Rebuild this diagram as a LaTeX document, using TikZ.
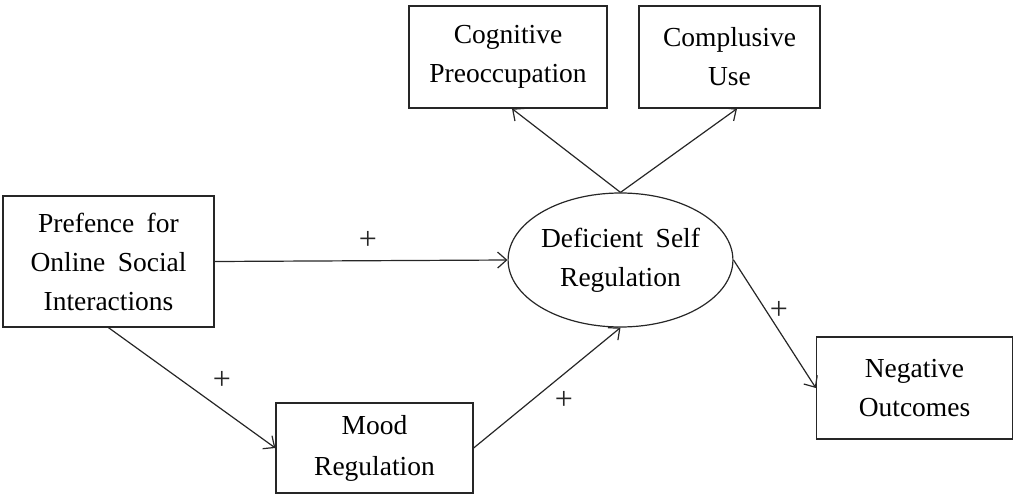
\documentclass[tikz,border=0pt]{standalone}
\usepackage{fontspec}
\setmainfont{Liberation Serif}[WordSpace=1.8]
\usetikzlibrary{arrows.meta,shapes.geometric}
\definecolor{ink}{HTML}{262626}
\tikzset{
  box/.style={draw=ink, line width=1.3pt, rectangle, inner sep=0pt, align=center,
    font=\fontsize{27.5}{39}\selectfont, text=black},
  oval/.style={draw=ink, line width=1.2pt, ellipse, inner sep=0pt, align=center,
    minimum width=223pt, minimum height=134pt, font=\fontsize{27.5}{39}\selectfont, text=black},
  arr/.style={draw=ink, line width=1.2pt, -{Straight Barb[length=9pt,width=16pt,line width=1.2pt]}},
  sign/.style={font=\fontsize{32}{34}\selectfont, text=ink, inner sep=0pt}
}
\begin{document}
\begin{tikzpicture}[x=1pt,y=-1pt]
\useasboundingbox (0,0) rectangle (1014,495);
\node[box, minimum width=198pt, minimum height=102pt] (cog) at (508,57) {Cognitive\\Preoccupation};
\node[box, minimum width=181pt, minimum height=102pt] (comp) at (729.5,57) {Complusive\\Use};
\node[box, minimum width=211pt, minimum height=131pt] (pref) at (108.5,261.5) {Prefence for\\Online Social\\Interactions};
\node[oval] (dsr) at (620.5,260) {Deficient Self\\Regulation};
\node[box, minimum width=197pt, minimum height=90pt] (mood) at (374.5,448) {Mood\\[2pt]Regulation};
\node[box, minimum width=196pt, minimum height=102pt] (neg) at (914.5,388) {Negative\\Outcomes};

\draw[arr] (dsr.north) -- ([xshift=4pt]cog.south);
\draw[arr] (dsr.north) -- ([xshift=7.5pt]comp.south);
\draw[arr] (pref.east) -- (dsr.west);
\draw[arr] (pref.south) -- (mood.west);
\draw[arr] (mood.east) -- (dsr.south);
\draw[arr] (dsr.east) -- (neg.west);

\node[sign] (p1) at (368,240) {+};
\node[sign] (p2) at (222,380) {+};
\node[sign] (p3) at (564,400) {+};
\node[sign] (p4) at (779,310) {+};
\end{tikzpicture}
\end{document}
